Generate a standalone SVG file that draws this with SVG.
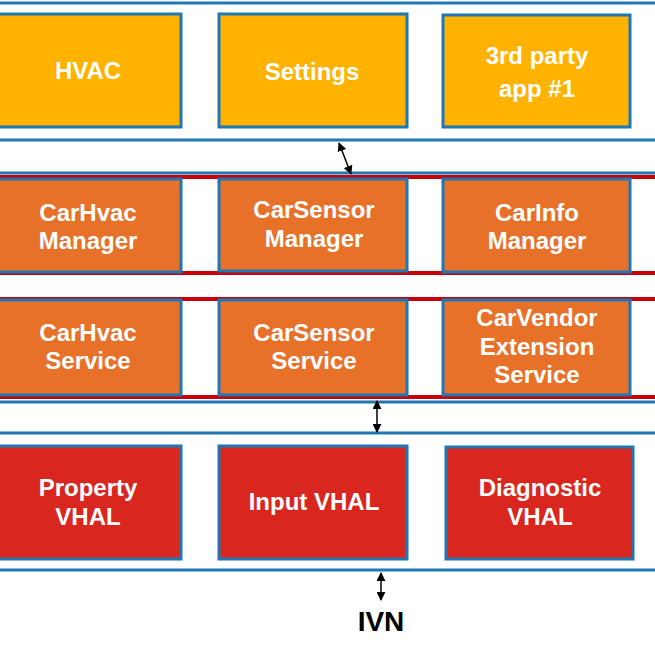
<svg xmlns="http://www.w3.org/2000/svg" width="655" height="655" viewBox="0 0 655 655">
<defs>
<style>
.b{stroke:#1f77b4;stroke-width:3}
.app{fill:#ffb300}
.mgr{fill:#e8712a}
.hal{fill:#d9261f}
.t{fill:#fff;font-family:"Liberation Sans Narrow","Liberation Sans",Arial,sans-serif;font-weight:bold;font-size:24px;text-anchor:middle}
.bl{stroke:#1f77b4;stroke-width:3}
.rl{stroke:#c8000a;stroke-width:4}
.ar{stroke:#000;stroke-width:1.5;marker-start:url(#h);marker-end:url(#h)}
</style>
<marker id="h" viewBox="0 0 10 10" refX="9" refY="5" markerWidth="6" markerHeight="6" orient="auto-start-reverse"><path d="M0,0L10,5L0,10z" fill="#000"/></marker>
</defs>
<rect width="655" height="655" fill="#fff"/>
<g id="lines">
<line class="bl" x1="0" y1="3" x2="655" y2="3"/>
<line class="bl" x1="0" y1="140" x2="655" y2="140"/>
<line class="bl" x1="0" y1="173" x2="655" y2="173"/>
<line class="rl" x1="0" y1="177" x2="655" y2="177"/>
<line class="rl" x1="0" y1="273" x2="655" y2="273"/>
<line class="rl" x1="0" y1="299" x2="655" y2="299"/>
<line class="rl" x1="0" y1="397" x2="655" y2="397"/>
<line class="bl" x1="0" y1="402" x2="655" y2="402"/>
<line class="bl" x1="0" y1="433" x2="655" y2="433"/>
<line class="bl" x1="0" y1="570" x2="655" y2="570"/>
</g>
<g id="n1"><rect class="app b" x="-5" y="14" width="186" height="113"/><text class="t" x="88" y="79">HVAC</text></g>
<g id="n2"><rect class="app b" x="219" y="14" width="188" height="113"/><text class="t" x="312" y="80">Settings</text></g>
<g id="n3"><rect class="app b" x="443" y="15" width="187" height="112"/><text class="t" x="537" y="64">3rd party</text><text class="t" x="537" y="97">app #1</text></g>
<g id="n4"><rect class="mgr b" x="-5" y="179" width="186" height="93"/><text class="t" x="88" y="221">CarHvac</text><text class="t" x="88" y="249">Manager</text></g>
<g id="n5"><rect class="mgr b" x="219" y="179" width="188" height="92"/><text class="t" x="314" y="218">CarSensor</text><text class="t" x="314" y="247">Manager</text></g>
<g id="n6"><rect class="mgr b" x="443" y="179" width="187" height="93"/><text class="t" x="537" y="221">CarInfo</text><text class="t" x="537" y="249">Manager</text></g>
<g id="n7"><rect class="mgr b" x="-5" y="300" width="186" height="95"/><text class="t" x="88" y="341">CarHvac</text><text class="t" x="88" y="369">Service</text></g>
<g id="n8"><rect class="mgr b" x="219" y="300" width="188" height="95"/><text class="t" x="314" y="341">CarSensor</text><text class="t" x="314" y="369">Service</text></g>
<g id="n9"><rect class="mgr b" x="443" y="300" width="187" height="95"/><text class="t" x="537" y="326">CarVendor</text><text class="t" x="537" y="355">Extension</text><text class="t" x="537" y="383">Service</text></g>
<g id="n10"><rect class="hal b" x="-5" y="446" width="186" height="113"/><text class="t" x="88" y="496">Property</text><text class="t" x="88" y="525">VHAL</text></g>
<g id="n11"><rect class="hal b" x="219" y="446" width="188" height="113"/><text class="t" x="314" y="510">Input VHAL</text></g>
<g id="n12"><rect class="hal b" x="446" y="447" width="187" height="112"/><text class="t" x="540" y="496">Diagnostic</text><text class="t" x="540" y="525">VHAL</text></g>
<g id="connectors">
<line class="ar" x1="339" y1="143" x2="351" y2="174"/>
<line class="ar" x1="377" y1="401" x2="377" y2="432"/>
<line class="ar" x1="381" y1="573" x2="381" y2="600"/>
</g>
<text x="381" y="631" style="font-family:'Liberation Sans Narrow','Liberation Sans',Arial,sans-serif;font-weight:bold;font-size:28px;text-anchor:middle" fill="#000">IVN</text>
</svg>
